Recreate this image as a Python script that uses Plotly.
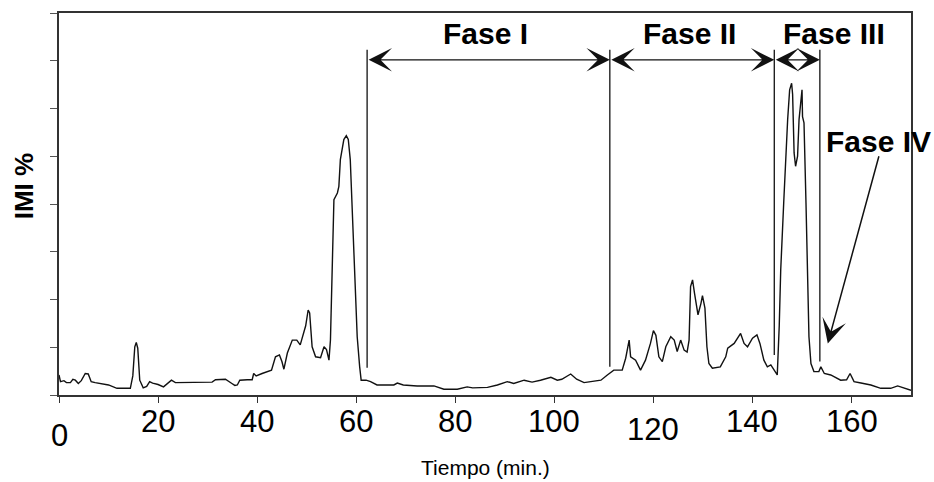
import plotly.graph_objects as go

# ---- data ----
tiempo = [0, 0.3, 1.0, 1.5, 2.3, 2.8, 3.3, 3.9, 4.5, 5.3, 5.9, 6.5, 7.3, 8.7, 10.0, 11.7, 14.4, 14.9,
          15.3, 15.6, 15.9, 16.3, 17.0, 17.7, 18.3, 18.9, 20.0, 21.1, 22.1, 22.7, 23.5, 27.0, 30.9,
          31.6, 33.6, 34.9, 35.5, 36.0, 36.5, 38.0, 39.0, 39.3, 39.8, 41.0, 42.3, 42.9, 43.7, 44.5,
          45.0, 45.4, 46.1, 47.1, 48.0, 48.7, 49.8, 50.3, 50.6, 51.1, 51.8, 52.8, 53.5, 54.0, 54.5,
          54.8, 55.2, 55.5, 56.2, 56.5, 56.8, 57.5, 58.0, 58.4, 58.8, 59.2, 59.9, 60.2, 60.7, 61.0,
          62.0, 62.9, 64.2, 67.6, 68.3, 69.5, 72.3, 75.7, 77.7, 80.4, 82.4, 83.5, 86.5, 88.5, 90.5,
          91.8, 93.9, 95.5, 97.2, 99.3, 100.6, 101.5, 103.3, 104.5, 106.0, 107.5, 109.4, 110.7,
          112.0, 113.7, 114.4, 115.1, 115.4, 116.4, 117.4, 118.4, 119.4, 120.0, 120.5, 121.1,
          121.8, 122.5, 123.5, 124.2, 124.8, 125.5, 126.2, 126.8, 127.2, 127.5, 127.9, 128.3,
          129.0, 129.6, 129.9, 130.4, 130.8, 131.2, 131.9, 133.5, 134.6, 135.0, 136.3, 137.6,
          138.3, 139.0, 140.0, 140.9, 141.5, 142.3, 143.0, 143.7, 144.3, 145.0, 145.4, 145.7,
          146.3, 146.7, 147.1, 147.5, 147.9, 148.1, 148.4, 148.7, 149.1, 149.4, 149.8, 150.0,
          150.1, 150.4, 150.8, 151.1, 151.4, 151.8, 152.4, 153.4, 153.8, 154.5, 155.8, 157.8,
          159.0, 159.7, 160.5, 161.9, 163.9, 165.9, 167.9, 169.3, 170.6, 172.0]
imi = [0.42, 0.28, 0.30, 0.26, 0.26, 0.33, 0.31, 0.24, 0.30, 0.45, 0.44, 0.28, 0.26, 0.24, 0.21,
       0.14, 0.14, 0.40, 1.01, 1.10, 0.98, 0.31, 0.15, 0.18, 0.28, 0.25, 0.22, 0.17, 0.26, 0.31,
       0.26, 0.26, 0.27, 0.32, 0.33, 0.24, 0.20, 0.21, 0.31, 0.32, 0.32, 0.45, 0.40, 0.45, 0.49,
       0.52, 0.80, 0.84, 0.70, 0.54, 0.88, 1.15, 1.15, 1.05, 1.45, 1.78, 1.72, 1.01, 0.80, 0.78,
       1.01, 0.95, 0.73, 1.15, 2.83, 4.09, 4.23, 4.37, 4.93, 5.35, 5.43, 5.35, 4.93, 3.81, 2.27,
       1.22, 0.59, 0.31, 0.31, 0.28, 0.21, 0.21, 0.25, 0.21, 0.19, 0.19, 0.12, 0.12, 0.17, 0.15,
       0.16, 0.21, 0.28, 0.24, 0.31, 0.27, 0.31, 0.37, 0.31, 0.33, 0.44, 0.33, 0.26, 0.28, 0.31,
       0.42, 0.52, 0.52, 0.77, 1.15, 0.80, 0.73, 0.52, 0.73, 1.08, 1.35, 1.25, 0.80, 0.70, 1.01,
       1.22, 1.15, 0.91, 1.15, 0.94, 0.90, 1.15, 2.27, 2.41, 2.13, 1.68, 1.92, 2.08, 1.82, 1.01,
       0.66, 0.56, 0.59, 0.80, 0.98, 1.08, 1.29, 1.08, 1.01, 1.19, 1.26, 1.08, 0.73, 0.59, 0.63,
       0.52, 0.42, 1.45, 2.62, 4.02, 5.07, 5.77, 6.39, 6.53, 6.30, 5.07, 4.79, 5.00, 5.77, 6.25,
       6.39, 5.83, 5.70, 4.02, 2.62, 1.22, 0.66, 0.49, 0.49, 0.59, 0.45, 0.42, 0.31, 0.32, 0.45,
       0.28, 0.25, 0.21, 0.14, 0.14, 0.19, 0.14, 0.10]

x_tick_vals = [0, 20, 40, 60, 80, 100, 120, 140, 160]
x_tick_labels = ["0", "20", "40", "60", "80", "100", "120", "140", "160"]
y_tick_vals = [0, 1, 2, 3, 4, 5, 6, 7, 8]

# phase boundaries (min) and where each boundary line ends at the bottom
fase_limites = [62.2, 111.2, 144.4, 153.6]
fase_fondo = [0.57, 0.59, 0.84, 0.70]
fase_nombres = ["Fase I", "Fase II", "Fase III"]
fase_centros = [86.1, 127.3, 156.4]

FONT = "Liberation Sans, Arial, sans-serif"
INK = "#111111"

fig = go.Figure()
fig.add_trace(go.Scatter(x=tiempo, y=imi, mode="lines",
                         line=dict(color=INK, width=1.4), hoverinfo="skip",
                         showlegend=False))

# vertical phase boundary lines
for xb, yb in zip(fase_limites, fase_fondo):
    fig.add_shape(type="line", x0=xb, x1=xb, y0=yb, y1=7.23, xref="x", yref="y",
                  line=dict(color=INK, width=1.3))

annotations = []
# double arrows between boundaries
for i in range(3):
    annotations.append(dict(x=fase_limites[i + 1], y=7.02, ax=fase_limites[i], ay=7.02,
                            xref="x", yref="y", axref="x", ayref="y", text="",
                            showarrow=True, arrowside="end+start",
                            arrowhead=3, startarrowhead=3,
                            arrowsize=3.0, startarrowsize=3.0, arrowwidth=1.3,
                            arrowcolor=INK, standoff=0, startstandoff=0))
    annotations.append(dict(x=fase_centros[i], y=7.57, xref="x", yref="y",
                            text="<b>%s</b>" % fase_nombres[i], showarrow=False,
                            font=dict(family=FONT, size=30, color="#000"),
                            xanchor="center", yanchor="middle"))

# Fase IV label and arrow
annotations.append(dict(x=165.5, y=5.31, xref="x", yref="y", text="<b>Fase IV</b>",
                        showarrow=False, font=dict(family=FONT, size=30, color="#000"),
                        xanchor="center", yanchor="middle"))
annotations.append(dict(x=155.2, y=1.08, ax=165.6, ay=5.03, xref="x", yref="y",
                        axref="x", ayref="y", text="", showarrow=True, arrowhead=3,
                        arrowsize=2.7, arrowwidth=1.5, arrowcolor=INK, standoff=0))

# x tick labels (staggered as in the original)
label_shift = {"0": -40, "120": -34}
for v, t in zip(x_tick_vals, x_tick_labels):
    annotations.append(dict(x=v, y=0, xref="x", yref="paper", text=t, showarrow=False,
                            font=dict(family=FONT, size=31, color="#000"),
                            xanchor="center", yanchor="middle",
                            yshift=label_shift.get(t, -26)))

# axis titles
annotations.append(dict(x=0.5, y=0, xref="paper", yref="paper", text="Tiempo (min.)",
                        showarrow=False, font=dict(family=FONT, size=21, color="#000"),
                        xanchor="center", yanchor="middle", yshift=-72))
annotations.append(dict(x=-0.04, y=0.546, xref="paper", yref="paper", text="<b>IMI %</b>",
                        showarrow=False, textangle=-90,
                        font=dict(family=FONT, size=26, color="#000"),
                        xanchor="center", yanchor="middle"))

fig.update_layout(
    width=934, height=482,
    margin=dict(l=59, r=23, t=13, b=87),
    paper_bgcolor="white", plot_bgcolor="white",
    annotations=annotations,
    xaxis=dict(range=[0, 172], tickvals=x_tick_vals, showticklabels=False,
               ticks="outside", ticklen=6, tickcolor="#333", tickwidth=1.3,
               showline=True, linecolor="#333", linewidth=1.5, mirror=True,
               showgrid=False, zeroline=False),
    yaxis=dict(range=[0, 8], tickvals=y_tick_vals, showticklabels=False,
               ticks="outside", ticklen=7, tickcolor="#555", tickwidth=1.3,
               showline=True, linecolor="#333", linewidth=1.5, mirror=True,
               showgrid=False, zeroline=False),
)

fig.write_html("out.html")
